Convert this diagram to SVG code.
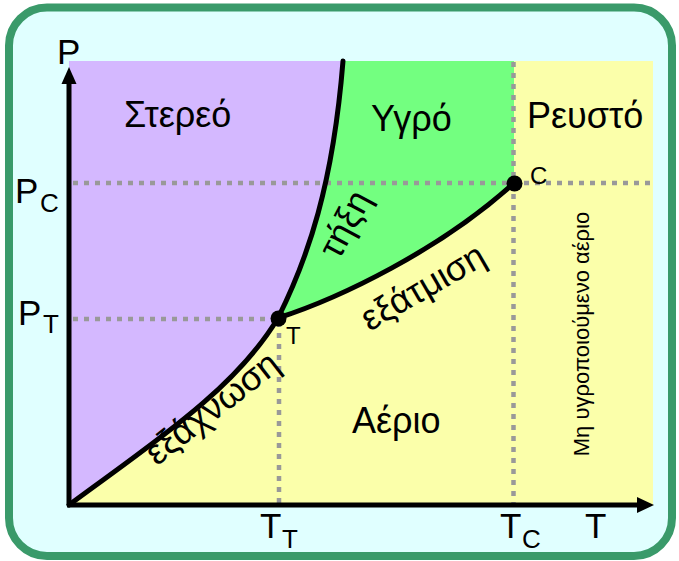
<svg xmlns="http://www.w3.org/2000/svg" width="679" height="561" viewBox="0 0 679 561">
<style>
.lbl{font-family:"Liberation Sans",Arial,sans-serif;font-size:36px;fill:#000}
.ax{font-family:"Liberation Sans",Arial,sans-serif;font-size:35px;fill:#000}
.sub{font-family:"Liberation Sans",Arial,sans-serif;font-size:26px;fill:#000}
.sm{font-family:"Liberation Sans",Arial,sans-serif;font-size:24px;fill:#000}
.vert{font-family:"Liberation Sans",Arial,sans-serif;font-size:22px;fill:#000}
.dot{stroke:#999999;stroke-width:4.5;stroke-dasharray:5 6;fill:none}
.curve{stroke:#000;stroke-width:5;fill:none;stroke-linecap:round}
.axis{stroke:#000;stroke-width:5;fill:none}
</style>
<rect id="frame" x="9" y="7.5" width="663" height="548.5" rx="38" ry="38" fill="#e0ffff" stroke="#3a9a6a" stroke-width="8"/>
<g id="regions">
<rect id="gas" x="69" y="61" width="584" height="444" fill="#fbffaa"/>
<path id="solid" d="M69,61 L343,61 C333,185 308,258 278,318 C235,390 150,445 69,505 Z" fill="#d4b8ff"/>
<path id="liquid" d="M343,61 L514,61 L514,183 C440,250 340,298 278,318 C308,258 333,185 343,61 Z" fill="#73ff80"/>
</g>
<g id="guides">
<line class="dot" x1="73" y1="183" x2="652" y2="183"/>
<line class="dot" x1="73" y1="319" x2="278" y2="319"/>
<line class="dot" x1="279" y1="322" x2="279" y2="504"/>
<line class="dot" x1="513.5" y1="62" x2="513.5" y2="504"/>
</g>
<g id="axes">
<line class="axis" x1="69" y1="505" x2="69" y2="80"/>
<polygon points="69,67 61.5,84 76.5,84" fill="#000"/>
<line class="axis" x1="67" y1="505" x2="640" y2="505"/>
<polygon points="654,505 637,497 637,513" fill="#000"/>
</g>
<g id="connectors">
<path id="sublimation" class="curve" d="M69,505 C150,445 235,390 278,318"/>
<path id="melting" class="curve" d="M278,318 C308,258 333,185 343,61"/>
<path id="vaporization" class="curve" d="M278,318 C340,298 440,250 514,183"/>
</g>
<g id="triple-point"><circle cx="278.5" cy="318.5" r="8"/><text class="sm" x="286" y="344">T</text></g>
<g id="critical-point"><circle cx="514.5" cy="183.5" r="8"/><text class="sm" x="530" y="184">C</text></g>
<g id="labels">
<text class="lbl" x="124" y="127">Στερεό</text>
<text class="lbl" x="371" y="131">Υγρό</text>
<text class="lbl" x="527" y="128">Ρευστό</text>
<text class="lbl" x="352" y="433">Αέριο</text>
<text class="ax" x="57" y="64">P</text>
<text class="ax" x="15" y="203">P</text><text class="sub" x="40" y="212">C</text>
<text class="ax" x="18" y="325">P</text><text class="sub" x="43" y="333">T</text>
<text class="ax" x="260" y="538">T</text><text class="sub" x="282" y="548">T</text>
<text class="ax" x="500" y="538">T</text><text class="sub" x="522" y="548">C</text>
<text class="ax" x="585" y="538">T</text>
<text class="lbl" text-anchor="middle" transform="translate(345,224) rotate(-62)" y="12">τήξη</text>
<text class="lbl" text-anchor="middle" transform="translate(423,287) rotate(-30)" y="12">εξάτμιση</text>
<text class="lbl" text-anchor="middle" transform="translate(212,408) rotate(-38)" y="12">εξάχνωση</text>
<text class="vert" text-anchor="middle" transform="translate(589,334) rotate(-90)">Μη υγροποιούμενο αέριο</text>
</g>
</svg>
